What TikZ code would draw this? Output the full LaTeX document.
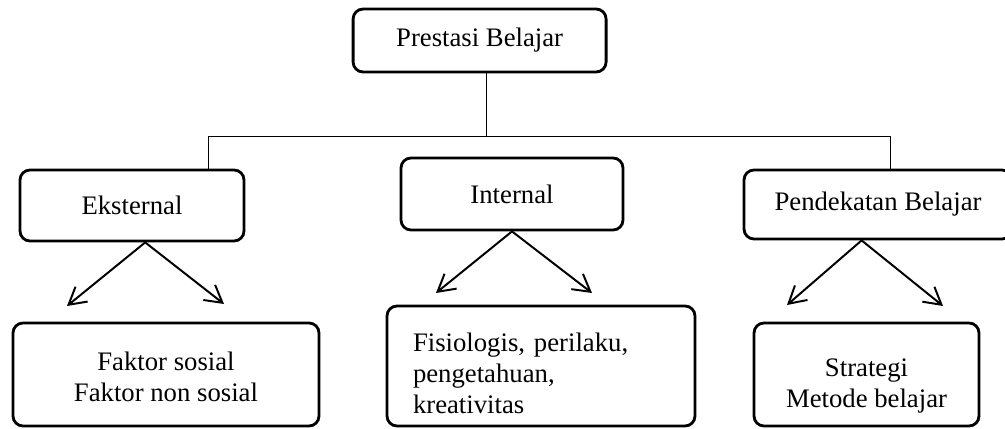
\documentclass[tikz,border=0pt]{standalone}
\usepackage{fontspec}
\setmainfont{Liberation Serif}
\usetikzlibrary{arrows.meta}
\tikzset{
	kotak/.style={draw, rounded corners=2.5mm, line width=2pt, align=center, inner sep=0pt, font=\fontsize{19}{22}\selectfont},
	garis/.style={line width=0.7pt},
	panah/.style={line width=1.4pt, -{Straight Barb[length=4.2mm, width=4.8mm, line width=1.4pt]}}
}
\begin{document}
\begin{tikzpicture}
		   			\clip (0,0) rectangle (25.125,10.7);
		   			% Kotak utama
		   				\node[kotak, minimum width=6.325cm, minimum height=1.575cm] (prestasi) at (11.99,9.6875) {Prestasi Belajar};
		   			% Faktor
			   			\node[kotak, minimum width=5.6cm, minimum height=1.775cm] (eksternal) at (3.3,5.5625) {Eksternal};
			   			\node[kotak, minimum width=5.55cm, minimum height=1.8cm] (internal) at (12.8,5.85) {Internal};
			   			\node[kotak, minimum width=6.7cm, minimum height=1.725cm] (pendekatan) at (21.95,5.5875) {Pendekatan Belajar};
		   			% Isi
			   			\node[kotak, minimum width=7.65cm, minimum height=2.575cm] (sosial) at (4.15,1.3375) {\rule{0pt}{0.6cm}Faktor sosial\\Faktor non sosial};
			   			\node[kotak, minimum width=7.7cm, minimum height=3cm, text width=6.4cm, align=left] (fisiologis) at (13.525,1.55) {\rule{0pt}{0.85cm}Fisiologis, perilaku,\\pengetahuan,\\kreativitas};
			   			\node[kotak, minimum width=5.625cm, minimum height=2.575cm] (strategi) at (21.6625,1.3375) {\rule{0pt}{1cm}Strategi\\Metode belajar};
		   			% Garis cabang
			   			\coordinate (hub) at (12.15,7.3);
			   			\coordinate (kiri) at (5.2,7.3);
			   			\coordinate (kanan) at (22.25,7.3);
			   			\draw[garis] (prestasi.south -| hub) -- (hub);
			   			\draw[garis] (eksternal.north -| kiri) -- (kiri) -- (kanan) -- (pendekatan.north -| kanan);
		   			% Panah
			   			\coordinate (e1) at (1.675,3.05);
			   			\coordinate (e2) at (5.6,3.1);
			   			\coordinate (i1) at (10.9,3.375);
			   			\coordinate (i2) at (14.8,3.375);
			   			\coordinate (p1) at (19.675,3.075);
			   			\coordinate (p2) at (23.575,3.05);
			   			\draw[panah] ([xshift=3.3mm]eksternal.south) -- (e1);
			   			\draw[panah] ([xshift=3.3mm]eksternal.south) -- (e2);
			   			\draw[panah] (internal.south) -- (i1);
			   			\draw[panah] (internal.south) -- (i2);
			   			\draw[panah] ([xshift=-4.1mm]pendekatan.south) -- (p1);
			   			\draw[panah] ([xshift=-4.1mm]pendekatan.south) -- (p2);
		   		\end{tikzpicture}
\end{document}
